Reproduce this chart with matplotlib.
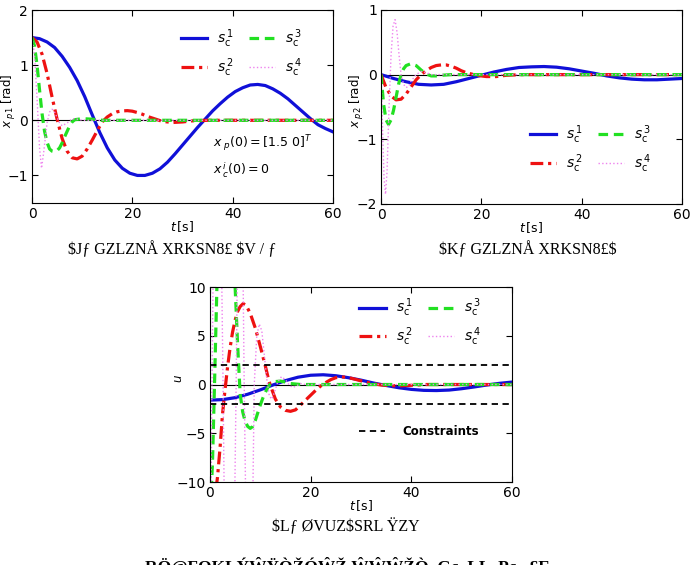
import matplotlib
matplotlib.use("Agg")
import matplotlib.pyplot as plt
from matplotlib.lines import Line2D

"""Closed-loop responses of four controllers s_c^1..s_c^4"""

# ---- x_p1 [rad] ----
xp1_s1_t = [0, 1.5, 3, 4.5, 6, 7.5, 9, 10.5, 12, 13.5, 15, 16.5, 18, 19.5, 21, 22.5,
            24, 25.5, 27, 28.5, 30, 31.5, 33, 34.5, 36, 37.5, 39, 40.5, 42, 43.5, 45,
            46.5, 48, 49.5, 51, 52.5, 54, 55.5, 57, 58.5, 60]
xp1_s1 = [1.50, 1.48, 1.42, 1.32, 1.16, 0.96, 0.72, 0.43, 0.10, -0.22, -0.50, -0.72,
          -0.87, -0.96, -1.00, -1.00, -0.96, -0.88, -0.76, -0.61, -0.45, -0.29,
          -0.13, 0.02, 0.17, 0.30, 0.42, 0.52, 0.59, 0.64, 0.65, 0.63, 0.57, 0.49,
          0.39, 0.27, 0.15, 0.03, -0.08, -0.15, -0.21]
xp1_s2_t = [0, 1, 2, 3, 4, 5, 6, 7, 8, 9, 10, 11, 12, 13, 14, 15, 16, 17, 18, 19, 20,
            21, 22, 23, 24, 26, 28, 30, 32, 35, 60]
xp1_s2 = [1.5, 1.42, 1.2, 0.85, 0.42, 0.02, -0.33, -0.56, -0.68, -0.70, -0.65,
          -0.52, -0.36, -0.19, -0.03, 0.06, 0.12, 0.155, 0.17, 0.175, 0.165, 0.14,
          0.11, 0.07, 0.04, -0.02, -0.04, -0.03, -0.01, 0.0, 0.0]
xp1_s3_t = [0, 0.5, 1, 1.5, 2, 2.5, 3, 3.5, 4, 4.5, 5, 5.5, 6, 6.5, 7, 7.5, 8, 8.5,
            10, 12, 14, 60]
xp1_s3 = [1.5, 1.35, 1.0, 0.55, 0.12, -0.2, -0.4, -0.52, -0.56, -0.57, -0.55, -0.5,
          -0.41, -0.3, -0.2, -0.1, -0.03, 0.01, 0.03, 0.02, 0.0, 0.0]
xp1_s4_t = [0, 0.5, 1, 1.5, 1.9, 2.3, 3, 3.5, 4, 4.5, 5, 5.5, 6, 7, 8, 9, 10, 60]
xp1_s4 = [1.5, 1.2, 0.4, -0.5, -0.87, -0.6, -0.05, 0.15, 0.2, 0.15, 0.05, -0.05,
          -0.1, -0.05, 0.03, 0.02, 0.0, 0.0]

# ---- x_p2 [rad] ----
xp2_s1_t = [0, 2.5, 5, 7.5, 10, 12.5, 15, 17.5, 20, 22.5, 25, 27.5, 30, 32.5, 35,
            37.5, 40, 42.5, 45, 47.5, 50, 52.5, 55, 57.5, 60]
xp2_s1 = [0, -0.06, -0.11, -0.15, -0.16, -0.15, -0.11, -0.06, -0.01, 0.04, 0.08,
          0.11, 0.12, 0.125, 0.115, 0.09, 0.055, 0.02, -0.02, -0.05, -0.07, -0.08,
          -0.08, -0.07, -0.06]
xp2_s2_t = [0, 1, 2, 3, 4, 5, 6, 7, 8, 9, 10, 11, 12, 13, 14, 15, 16, 17, 18, 19,
            21, 23, 25, 28, 60]
xp2_s2 = [0, -0.2, -0.33, -0.39, -0.38, -0.3, -0.19, -0.08, 0.0, 0.06, 0.11, 0.14,
          0.15, 0.15, 0.13, 0.1, 0.06, 0.03, 0.01, -0.01, -0.03, -0.03, -0.01, 0.0, 0.0]
xp2_s3_t = [0, 0.5, 1, 1.5, 2, 2.5, 3, 3.5, 4, 4.5, 5, 6, 7, 8, 9, 10, 11, 12, 14, 60]
xp2_s3 = [0, -0.45, -0.7, -0.77, -0.7, -0.55, -0.35, -0.15, 0.0, 0.09, 0.14, 0.17,
          0.14, 0.07, 0.01, -0.02, -0.02, -0.01, 0.0, 0.0]
xp2_s4_t = [0, 0.3, 0.6, 0.9, 1.2, 1.6, 2.0, 2.4, 2.8, 3.2, 3.6, 4.0, 4.5, 5, 5.5,
            6, 7, 8, 9, 10, 60]
xp2_s4 = [0, -0.8, -1.6, -1.85, -1.5, -0.5, 0.3, 0.75, 0.85, 0.65, 0.3, 0.0, -0.15,
          -0.2, -0.18, -0.1, 0.0, 0.05, 0.03, 0.0, 0.0]

# ---- u ----
u_s1_t = [0, 2.5, 5, 7.5, 10, 12.5, 15, 17.5, 20, 22.5, 25, 27.5, 30, 32.5, 35,
          37.5, 40, 42.5, 45, 47.5, 50, 52.5, 55, 57.5, 60]
u_s1 = [-1.6, -1.55, -1.35, -1.0, -0.55, -0.05, 0.4, 0.75, 0.95, 1.0, 0.9, 0.7,
        0.45, 0.15, -0.1, -0.33, -0.5, -0.6, -0.62, -0.57, -0.43, -0.25, -0.05,
        0.12, 0.25]
u_s2_t = [0, 1, 1.5, 2, 2.5, 3, 3.5, 4, 4.5, 5, 5.5, 6, 6.6, 7.2, 8, 9, 10, 11,
          11.6, 12, 13, 14, 15, 16, 17, 18, 19, 20, 21, 22, 23, 24, 25, 26, 27,
          28, 30, 32, 34, 36, 38, 40, 43, 60]
u_s2 = [-16, -11.5, -9.5, -6.5, -3, -0.5, 1.8, 3.8, 5.4, 6.6, 7.5, 8.0, 8.3, 8.1,
        7.3, 5.8, 3.9, 1.9, 0.6, -0.1, -1.5, -2.3, -2.65, -2.75, -2.6, -2.1, -1.6,
        -1.1, -0.6, -0.15, 0.2, 0.5, 0.7, 0.78, 0.75, 0.65, 0.38, 0.12, -0.05,
        -0.12, -0.13, -0.08, 0.0, 0.0]
u_s3_t = [0, 0.5, 1.0, 1.4, 2.5, 3.5, 4.5, 5.0, 5.5, 6.0, 6.5, 7.0, 7.5, 8.0, 8.5,
          9.0, 9.5, 10, 10.5, 11, 11.5, 12, 13, 14, 15, 16, 18, 60]
u_s3 = [-14, -8, 2, 10.5, 15, 15, 12.5, 10, 4, -1, -2.8, -3.8, -4.3, -4.5, -4.3,
        -3.7, -2.9, -2.1, -1.4, -0.8, -0.3, 0.05, 0.3, 0.35, 0.25, 0.1, 0.0, 0.0]
u_s4_t = [0, 0.4, 0.9, 2.0, 2.6, 3.1, 4.6, 5.2, 5.7, 6.3, 6.8, 7.3, 8.3, 8.8, 9.3,
          9.8, 10.3, 10.8, 11.3, 11.8, 12.3, 12.8, 13.5, 14.2, 15, 15.8, 16.5,
          17.3, 18, 19, 60]
u_s4 = [-25, 0, 25, 25, 0, -25, -25, 0, 25, 25, 0, -20, -20, 0, 5, 6.2, 5.5, 3,
        0.5, -1.2, -1.5, -0.8, 0.3, 0.8, 0.5, -0.1, -0.3, -0.1, 0.1, 0.0, 0.0]

u_limits = [2, -2]

labels = [r"$s^{\,1}_{\mathrm{c}}$", r"$s^{\,2}_{\mathrm{c}}$",
          r"$s^{\,3}_{\mathrm{c}}$", r"$s^{\,4}_{\mathrm{c}}$"]

plt.rcParams['font.family'] = ['DejaVu Sans']
plt.rcParams['xtick.direction'] = 'in'
plt.rcParams['ytick.direction'] = 'in'
plt.rcParams['xtick.top'] = True
plt.rcParams['ytick.right'] = True
plt.rcParams['xtick.major.size'] = 4
plt.rcParams['ytick.major.size'] = 4
plt.rcParams['font.size'] = 10

styles = [dict(color='#1010d8', lw=2.3, ls='-'),
          dict(color='#ee1111', lw=2.3, ls=(0, (4, 1.5, 1, 1.5))),
          dict(color='#22e022', lw=2.3, ls=(0, (3, 1.8))),
          dict(color='#ee82ee', lw=1.0, ls=':')]


def draw(ax, series, ylim, yticks, ylabel, ylab_x):
    ax.axhline(0, color='black', lw=0.8, zorder=1)
    lines = []
    for (t, v), st in zip(series, styles):
        ln, = ax.plot(t, v, **st)
        lines.append(ln)
    ax.set_xlim(0, 60)
    ax.set_ylim(*ylim)
    ax.set_xticks([0, 20, 40, 60])
    ax.set_yticks(yticks)
    ax.tick_params(pad=3)
    ax.set_xlabel(r"$t\,$[s]", fontsize=9)
    ax.xaxis.set_label_coords(0.5, -0.085)
    ax.set_ylabel(ylabel, fontsize=8.5)
    ax.yaxis.set_label_coords(ylab_x, 0.53)
    return lines


fig = plt.figure(figsize=(6.9, 5.65), dpi=100)
ax1 = fig.add_axes([0.0464, 0.6407, 0.4362, 0.3416])
ax2 = fig.add_axes([0.5522, 0.6390, 0.4362, 0.3434])
ax3 = fig.add_axes([0.3043, 0.1469, 0.4377, 0.3451])

l1 = draw(ax1, [(xp1_s1_t, xp1_s1), (xp1_s2_t, xp1_s2), (xp1_s3_t, xp1_s3), (xp1_s4_t, xp1_s4)],
          (-1.5, 2), [-1, 0, 1, 2], r"$x_{\ p1}$ [rad]", -0.045)
l2 = draw(ax2, [(xp2_s1_t, xp2_s1), (xp2_s2_t, xp2_s2), (xp2_s3_t, xp2_s3), (xp2_s4_t, xp2_s4)],
          (-2, 1), [-2, -1, 0, 1], r"$x_{\ p2}$ [rad]", -0.05)
l3 = draw(ax3, [(u_s1_t, u_s1), (u_s2_t, u_s2), (u_s3_t, u_s3), (u_s4_t, u_s4)],
          (-10, 10), [-10, -5, 0, 5, 10], r"$u$", -0.083)
for c in u_limits:
    ax3.axhline(c, color='black', lw=1.3, ls=(0, (3.5, 2.5)), zorder=5)

ax1.text(36, -0.42, r"$x_{\ p}(0) = [1.5\ 0]^{T}$", fontsize=9, va='center')
ax1.text(36, -0.91, r"$x^{\,i}_{\,c}(0) = 0$", fontsize=9, va='center')

legkw = dict(ncol=2, frameon=False, fontsize=10, handlelength=1.9, handletextpad=0.7,
             columnspacing=1.1, labelspacing=0.45, borderpad=0, borderaxespad=0)
ax1.legend(l1, labels, loc='upper left', bbox_to_anchor=(0.495, 0.91), **legkw)
ax2.legend(l2, labels, loc='upper left', bbox_to_anchor=(0.495, 0.415), **legkw)
leg3 = ax3.legend(l3, labels, loc='upper left', bbox_to_anchor=(0.495, 0.95), **legkw)
ax3.add_artist(leg3)
ax3.legend([Line2D([], [], color='black', lw=1.3, ls=(0, (3.5, 2.5)))], ["Constraints"],
           loc='upper left', bbox_to_anchor=(0.495, 0.29), frameon=False,
           prop=dict(weight='bold', size=8.5), handlelength=2.2, borderpad=0,
           borderaxespad=0, handletextpad=1.4)

cap = dict(family=['Liberation Serif', 'DejaVu Serif'], fontsize=11.5, ha='center',
           va='center', parse_math=False)
fig.text(0.249, 0.557, "$Jƒ GZLZNÅ XRKSN8£ $V / ƒ", **cap)
fig.text(0.765, 0.557, "$Kƒ GZLZNÅ XRKSN8£$", **cap)
fig.text(0.501, 0.068, "$Lƒ ØVUZ$SRL ŸZY", **cap)
fig.text(0.503, 0.014, "RÖ@FQKLÝŴŸÒŽÓŴŽ ŴŴŴŽÒ  Gc  LL  Pc   £E",
         **dict(cap, va='top', weight='bold', fontsize=12.5))

fig.savefig("out.png", dpi=100)
